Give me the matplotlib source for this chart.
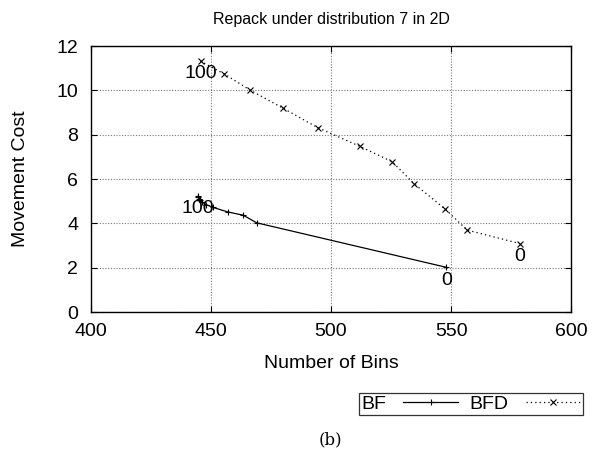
import matplotlib
matplotlib.use('Agg')
import matplotlib.pyplot as plt

plt.rcParams['font.family'] = ['Liberation Sans', 'DejaVu Sans']

# data (point 0 -> point 100)
bf_bins = [548.0, 469.0, 463.5, 457.0, 451.0, 448.0, 446.5, 445.5, 445.0, 444.7, 444.5]
bf_cost = [2.02, 4.03, 4.37, 4.52, 4.72, 4.85, 4.95, 5.05, 5.12, 5.18, 5.22]
bfd_bins = [578.7, 556.7, 547.5, 534.6, 525.5, 512.0, 494.5, 480.0, 466.1, 455.5, 445.7]
bfd_cost = [3.09, 3.70, 4.65, 5.79, 6.78, 7.48, 8.32, 9.20, 10.03, 10.75, 11.32]
xticks = [400, 450, 500, 550, 600]
yticks = [0, 2, 4, 6, 8, 10, 12]

fig = plt.figure(figsize=(6.09, 4.61), dpi=100)
ax = fig.add_axes([0.149, 0.323, 0.789, 0.577])

ax.plot(bf_bins, bf_cost, color='black', lw=0.9, marker='+', ms=5, mew=0.8, label='BF')
ax.plot(bfd_bins, bfd_cost, color='black', lw=0.9, ls=(0, (1, 2.5)), marker='x', ms=4, mew=0.8,
        label='BFD')

# start / end labels
for xs, ys in [(bf_bins, bf_cost), (bfd_bins, bfd_cost)]:
    ax.annotate('0', (xs[0], ys[0]), xytext=(0, -9.5), textcoords='offset points',
                ha='center', va='center', fontsize=14)
    ax.annotate('100', (xs[-1], ys[-1]), xytext=(0, -9), textcoords='offset points',
                ha='center', va='center', fontsize=14)

ax.set_xlim(400, 600)
ax.set_ylim(0, 12)
ax.set_xticks(xticks)
ax.set_yticks(yticks)
ax.tick_params(direction='in', length=4, width=0.8, top=True, right=True, labelsize=14)
ax.tick_params(axis='x', pad=8)
ax.tick_params(axis='y', pad=9)
ax.grid(True, color='#777777', ls=(0, (1, 1.5)), lw=0.8)
for s in ax.spines.values():
    s.set_linewidth(1.0)

ax.set_title('Repack under distribution 7 in 2D', fontsize=11.5, pad=16)
ax.set_xlabel('Number of Bins', fontsize=14, labelpad=11)
ax.set_ylabel('Movement Cost', fontsize=14, labelpad=20)

leg = fig.legend(loc='center', bbox_to_anchor=(0.773, 0.124), ncol=2, markerfirst=False,
                 frameon=True, fancybox=False, edgecolor='black', fontsize=14,
                 handlelength=2.8, handletextpad=0.9, columnspacing=0.6,
                 borderpad=0.12, borderaxespad=0)
leg.get_frame().set_linewidth(0.9)

fig.text(0.542, 0.045, '(b)', family='DejaVu Serif', fontsize=12, ha='center', va='center')

fig.savefig('out.png', dpi=100)
